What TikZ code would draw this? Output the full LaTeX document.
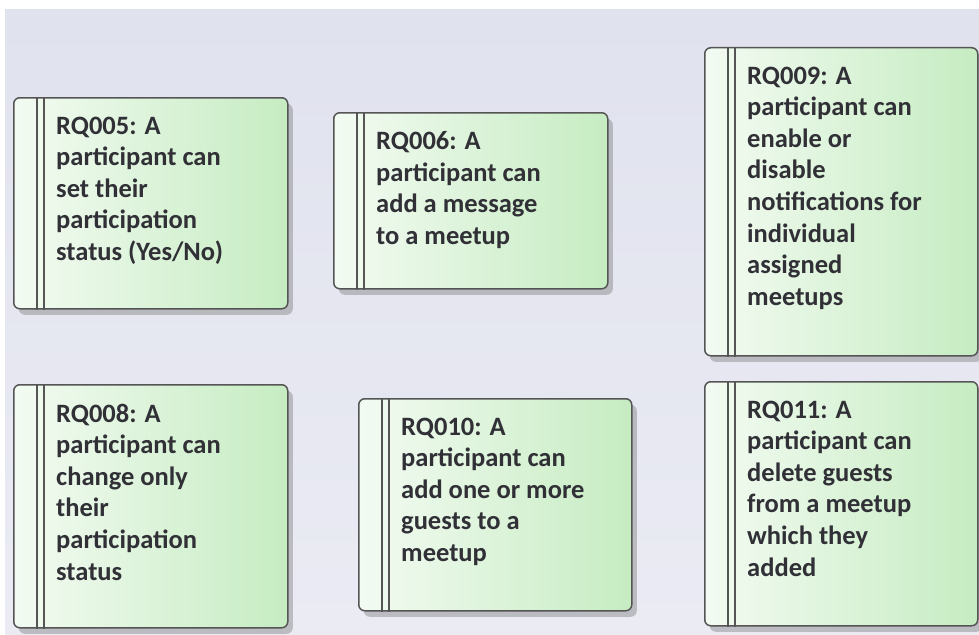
\documentclass[tikz,border=0pt]{standalone}
\usepackage{fontspec}
\setmainfont{Carlito}
\usetikzlibrary{shadows}
\definecolor{bgtop}{HTML}{E0E2EE}
\definecolor{bgbot}{HTML}{EAEBF3}
\definecolor{boxl}{HTML}{F3FBF2}
\definecolor{boxr}{HTML}{C6ECC2}
\definecolor{edgec}{HTML}{555555}
\definecolor{txt}{HTML}{303036}
\begin{document}
\begin{tikzpicture}[x=1pt,y=-1pt,
  req/.style={draw=edgec, line width=1.5pt, rounded corners=6pt,
    left color=boxl, right color=boxr, anchor=north west, inner sep=0pt,
    drop shadow={shadow xshift=5pt,shadow yshift=-6pt,fill=black!60,opacity=0.35}},
  reqtext/.style={anchor=north west, inner sep=0pt, align=left, text=txt,
    font=\bfseries\fontsize{26.5}{31.6}\selectfont},
  bar/.style={draw=edgec, line width=1.3pt}]
\useasboundingbox (0,0) rectangle (979,634);
\fill[white] (0,0) rectangle (979,634);
\shade[top color=bgtop,bottom color=bgbot] (5,10) rectangle (979,634);

\node[req, minimum width=274pt, minimum height=211pt] (b5) at (13,97) {};
\node[req, minimum width=274pt, minimum height=176pt] (b6) at (333,112) {};
\node[req, minimum width=273pt, minimum height=308pt] (b9) at (704,47) {};
\node[req, minimum width=274pt, minimum height=243pt] (b8) at (13,384) {};
\node[req, minimum width=273pt, minimum height=212pt] (b10) at (358,398) {};
\node[req, minimum width=273pt, minimum height=244pt] (b11) at (704,381) {};

\foreach \b in {b5,b6,b9,b8,b10,b11}{
  \draw[bar] ([xshift=24pt]\b.north west) -- ([xshift=24pt]\b.south west);
  \draw[bar] ([xshift=31pt]\b.north west) -- ([xshift=31pt]\b.south west);
}

\node[reqtext] (t5) at ([xshift=43pt,yshift=-19.5pt]b5.north west)
  {RQ005: A\\participant can\\set their\\participation\\status (Yes/No)};
\node[reqtext] (t6) at ([xshift=43pt,yshift=-19.5pt]b6.north west)
  {RQ006: A\\participant can\\add a message\\to a meetup};
\node[reqtext] (t9) at ([xshift=43pt,yshift=-19.5pt]b9.north west)
  {RQ009: A\\participant can\\enable or\\disable\\notifications for\\individual\\assigned\\meetups};
\node[reqtext] (t8) at ([xshift=43pt,yshift=-19.5pt]b8.north west)
  {RQ008: A\\participant can\\change only\\their\\participation\\status};
\node[reqtext] (t10) at ([xshift=43pt,yshift=-19.5pt]b10.north west)
  {RQ010: A\\participant can\\add one or more\\guests to a\\meetup};
\node[reqtext] (t11) at ([xshift=43pt,yshift=-19.5pt]b11.north west)
  {RQ011: A\\participant can\\delete guests\\from a meetup\\which they\\added};
\end{tikzpicture}
\end{document}
